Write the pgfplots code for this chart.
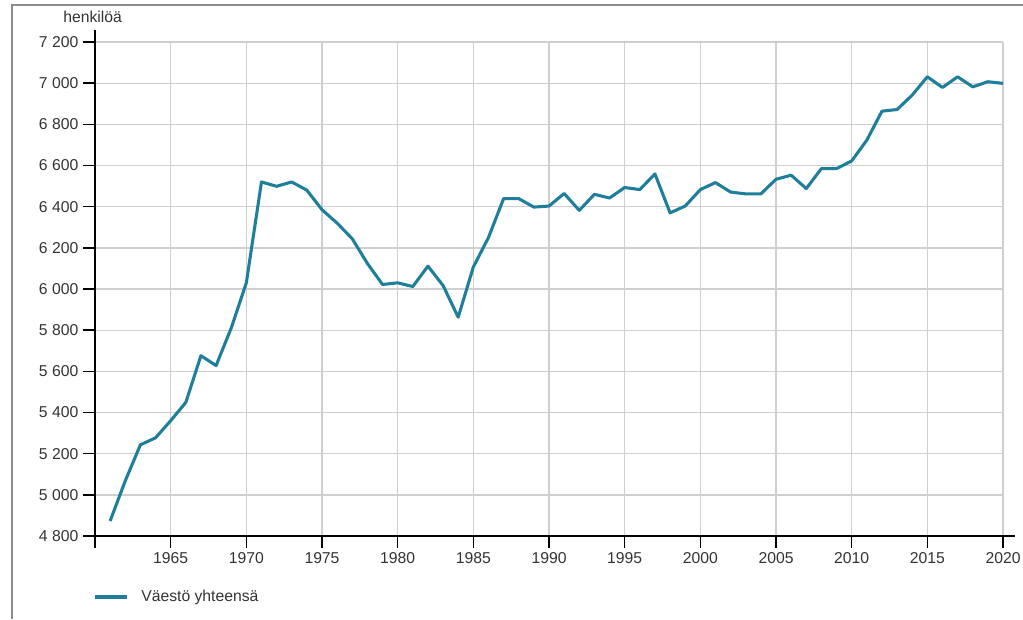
\documentclass[border=0pt]{standalone}
\usepackage{fontspec}
\setmainfont{Liberation Sans}
\usepackage{pgfplots}
\pgfplotsset{compat=1.18}
\definecolor{serie}{HTML}{1F7F9A}
\definecolor{gridc}{HTML}{CFCFCF}
\definecolor{txt}{HTML}{333333}
\definecolor{framec}{HTML}{8C8C8C}
\begin{document}
\begin{tikzpicture}
\path[use as bounding box] (-71.25pt,-62.25pt) rectangle (696pt,402pt);
\draw[framec, line width=1.1pt] (-62.25pt,-62.25pt) -- (-62.25pt,398.25pt) -- (696pt,398.25pt);
\node[anchor=west, inner sep=0pt, text=txt, font=\fontsize{11.8}{13}\selectfont] at (-24pt,389.25pt) {henkilöä};
\begin{axis}[
  at={(0pt,0pt)}, anchor=south west,
  scale only axis, width=681pt, height=370.5pt,
  xmin=1960, xmax=2020, ymin=4800, ymax=7200,
  axis lines=left, axis line style={-, line width=2pt, black},
  xtick={1965,1970,...,2020}, ytick={4800,5000,...,7200},
  tick align=outside,
  major tick length=9pt,
  tick style={black, line width=1.1pt},
  grid=major, grid style={gridc, line width=1pt},
  ticklabel style={font=\fontsize{11.8}{13}\selectfont, text=txt},
  /pgf/number format/assume math mode=true,
  x tick label style={/pgf/number format/.cd, 1000 sep={}},
  y tick label style={/pgf/number format/.cd, 1000 sep={\ }},
  clip=false,
  legend style={draw=none, fill=none, inner sep=0pt, at={(-0.0022,-0.1235)}, anchor=west,
    nodes={inner sep=0pt, text=txt, font=\fontsize{11.8}{13}\selectfont}},
  legend image code/.code={\draw[serie, line width=3pt] (0pt,0pt) -- (24pt,0pt);},
]
\addplot[serie, line width=2.3pt, line join=round] coordinates {
(1961,4873) (1962,5068) (1963,5243) (1964,5277) (1965,5360) (1966,5449)
(1967,5676) (1968,5628) (1969,5810) (1970,6030) (1971,6520) (1972,6499)
(1973,6520) (1974,6480) (1975,6385) (1976,6320) (1977,6244) (1978,6124)
(1979,6022) (1980,6030) (1981,6012) (1982,6111) (1983,6017) (1984,5863)
(1985,6107) (1986,6250) (1987,6439) (1988,6439) (1989,6398) (1990,6403)
(1991,6464) (1992,6382) (1993,6460) (1994,6442) (1995,6493) (1996,6483)
(1997,6559) (1998,6370) (1999,6403) (2000,6483) (2001,6517) (2002,6471)
(2003,6462) (2004,6462) (2005,6533) (2006,6553) (2007,6488) (2008,6585)
(2009,6585) (2010,6622) (2011,6723) (2012,6864) (2013,6872) (2014,6942)
(2015,7031) (2016,6979) (2017,7031) (2018,6982) (2019,7007) (2020,6999)
};
\addlegendentry{\hspace{9pt}Väestö yhteensä}
\draw[black, line width=2pt] (axis cs:1960,7200) -- (axis cs:1960,7258);
\draw[black, line width=2pt] (axis cs:1960,4800) -- (axis cs:1960,4742);
\draw[black, line width=2pt] (axis cs:2020,4800) -- (axis cs:2020.8,4800);
\end{axis}
\end{tikzpicture}
\end{document}
